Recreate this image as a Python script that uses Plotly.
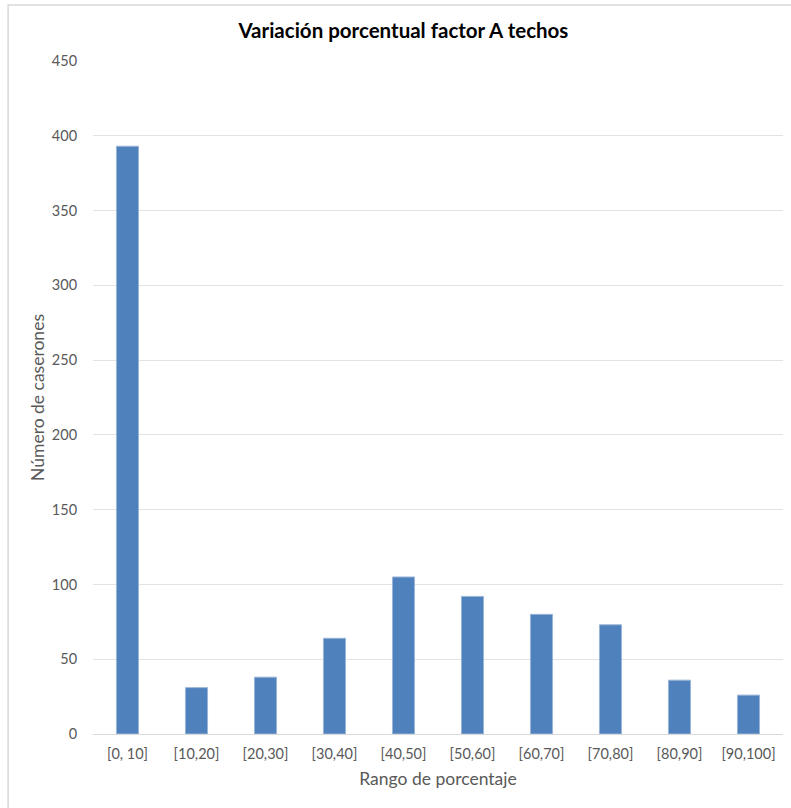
import plotly.graph_objects as go

# Histogram of percentage variation (factor A, roofs)
rangos = ["[0, 10]", "[10,20]", "[20,30]", "[30,40]", "[40,50]",
          "[50,60]", "[60,70]", "[70,80]", "[80,90]", "[90,100]"]
caserones = [393, 31, 38, 64, 105, 92, 80, 73, 36, 26]
y_ticks = [0, 50, 100, 150, 200, 250, 300, 350, 400, 450]

FONT = "Lato"
GRAY = "#595959"

fig = go.Figure(
    go.Bar(
        x=rangos,
        y=caserones,
        marker=dict(color="#4f81bd", line=dict(color="#9ab5d8", width=1)),
        hoverinfo="x+y",
    )
)

fig.update_layout(
    width=791,
    height=808,
    margin=dict(l=93, r=8, t=61, b=74),
    paper_bgcolor="white",
    plot_bgcolor="white",
    bargap=0.68,
    showlegend=False,
    title=dict(
        text="<b>Variación porcentual factor A techos</b>",
        x=0.51,
        xref="container",
        xanchor="center",
        y=0.962,
        yref="container",
        yanchor="middle",
        font=dict(family=FONT, size=20.5, color="#000000"),
    ),
    xaxis=dict(
        title=dict(text="Rango de porcentaje",
                   font=dict(family=FONT, size=17.5, color=GRAY), standoff=11),
        tickfont=dict(family=FONT, size=14.5, color=GRAY),
        showgrid=False,
        showline=False,
        ticks="outside",
        ticklen=7,
        tickcolor="rgba(0,0,0,0)",
    ),
    yaxis=dict(
        title=dict(text="Número de caserones",
                   font=dict(family=FONT, size=17.5, color=GRAY), standoff=2),
        range=[0, 450],
        tickvals=y_ticks,
        tickfont=dict(family=FONT, size=14.5, color=GRAY),
        showgrid=True,
        gridcolor="#e3e3e3",
        gridwidth=1,
        zeroline=True,
        zerolinecolor="#d9d9d9",
        zerolinewidth=1,
        ticks="outside",
        ticklen=12,
        tickcolor="rgba(0,0,0,0)",
    ),
    shapes=[
        dict(type="rect", xref="paper", yref="paper",
             x0=-0.123, x1=1.2, y0=-0.3, y1=1.0832,
             line=dict(color="#d9d9d9", width=1.5), fillcolor="rgba(0,0,0,0)",
             layer="below"),
    ],
)

fig.write_html("out.html")
